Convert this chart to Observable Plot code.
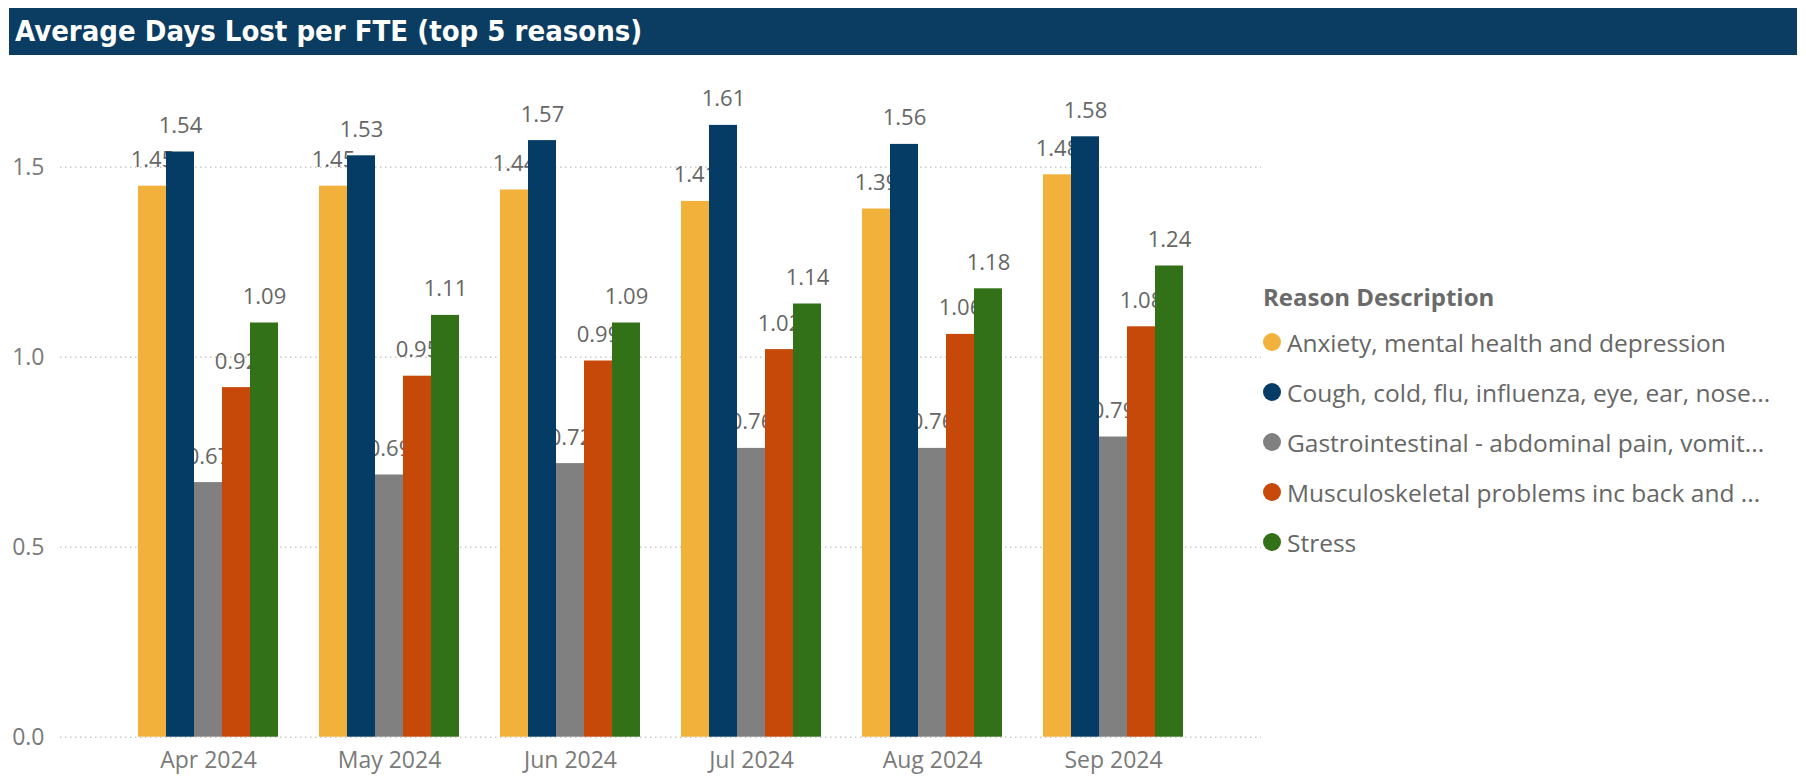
<!DOCTYPE html>
<html>
<head>
<meta charset="utf-8">
<script src="https://cdn.jsdelivr.net/npm/d3@7"></script>
<script src="https://cdn.jsdelivr.net/npm/@observablehq/plot@0.6"></script>
<style>
  html, body { margin: 0; padding: 0; background: #fff; }
  body { width: 1806px; height: 784px; position: relative; overflow: hidden; font-family: "Open Sans", "Noto Sans", sans-serif; }
  #title { position: absolute; left: 9px; top: 8px; width: 1788px; height: 47px; background: #0B3C61;
           color: #fff; font-family: "DejaVu Sans Condensed", "DejaVu Sans", sans-serif; font-stretch: condensed;
           font-weight: bold; font-size: 29px; line-height: 47px; padding-left: 6px; box-sizing: border-box; }
  #chart { position: absolute; left: 0; top: 60px; width: 1806px; height: 724px; }
  #chart svg { position: absolute; left: 0; top: 0; }
  #legend { position: absolute; left: 1263px; top: 283px; color: #666; font-family: "Open Sans", "Noto Sans", sans-serif; }
  #legend .lt { font-weight: 700; font-size: 24px; line-height: 28px; height: 34px; color: #6a6a6a; }
  #legend .it { display: flex; align-items: center; height: 50px; font-size: 24.5px; white-space: nowrap; }
  #legend .sw { width: 18px; height: 18px; border-radius: 50%; margin-right: 6px; flex: none; }
</style>
</head>
<body>
<div id="title">Average Days Lost per FTE (top 5 reasons)</div>
<div id="chart"></div>
<div id="legend"></div>
<script>
// ---- data ----
const months = ["Apr 2024", "May 2024", "Jun 2024", "Jul 2024", "Aug 2024", "Sep 2024"];
const reasons = [
  "Anxiety, mental health and depression",
  "Cough, cold, flu, influenza, eye, ear, nose...",
  "Gastrointestinal - abdominal pain, vomit...",
  "Musculoskeletal problems inc back and ...",
  "Stress"
];
const anxiety  = [1.45, 1.45, 1.44, 1.41, 1.39, 1.48];
const cough    = [1.54, 1.53, 1.57, 1.61, 1.56, 1.58];
const gastro   = [0.67, 0.69, 0.72, 0.76, 0.76, 0.79];
const musculo  = [0.92, 0.95, 0.99, 1.02, 1.06, 1.08];
const stress   = [1.09, 1.11, 1.09, 1.14, 1.18, 1.24];
const yTicks = [0, 0.5, 1.0, 1.5];
const colors = ["#F1B13B", "#053C65", "#808080", "#C7490A", "#337118"];
const legendTitle = "Reason Description";

const seriesValues = [anxiety, cough, gastro, musculo, stress];
const data = [];
months.forEach((m, i) => reasons.forEach((r, j) => data.push({month: m, reason: r, value: seriesValues[j][i]})));

// ---- layout ----
const W = 1806, H = 724;
const yScale = {domain: [0, 1.75], range: [676.7, 11.7]};
const fxRange = [117.5, 1203.5];
const font = '"Open Sans", "Noto Sans", sans-serif';

const back = Plot.plot({
  width: W, height: H,
  marginLeft: 60, marginRight: W - 1261, marginTop: 11.7, marginBottom: H - 676.7,
  style: {fontFamily: font, fontSize: "23px", color: "#7a7a7a", background: "transparent"},
  x: {domain: months, range: fxRange, paddingInner: 0.226, paddingOuter: 0.113, tickSize: 0, tickPadding: 14, label: null},
  y: {...yScale, ticks: yTicks, tickFormat: ".1f", tickSize: 0, tickPadding: 16, label: null},
  marks: [
    Plot.ruleY(yTicks, {stroke: "#c9c9c9", strokeWidth: 1.5, strokeDasharray: "1.5,3.5"})
  ]
});

const fore = Plot.plot({
  width: W, height: H,
  marginLeft: 60, marginRight: W - 1261, marginTop: 11.7, marginBottom: H - 676.7,
  style: {fontFamily: font, fontSize: "22px", background: "transparent"},
  fx: {domain: months, range: fxRange, paddingInner: 0.226, paddingOuter: 0.113, axis: null, label: null},
  x: {domain: reasons, padding: 0, axis: null},
  y: {...yScale, axis: null},
  color: {domain: reasons, range: colors},
  marks: [
    Plot.text(data, {fx: "month", x: "reason", y: "value", text: d => d3.format(".2f")(d.value), dy: -26, fill: "#666", fontSize: 22}),
    Plot.barY(data, {fx: "month", x: "reason", y: "value", fill: "reason"})
  ]
});

const chart = document.getElementById("chart");
chart.appendChild(back);
chart.appendChild(fore);

// ---- legend ----
const color = fore.scale("color");
const legend = d3.select("#legend");
legend.append("div").attr("class", "lt").text(legendTitle);
reasons.forEach(r => {
  const it = legend.append("div").attr("class", "it");
  it.append("span").attr("class", "sw").style("background", color.apply(r));
  it.append("span").text(r);
});
</script>
</body>
</html>
